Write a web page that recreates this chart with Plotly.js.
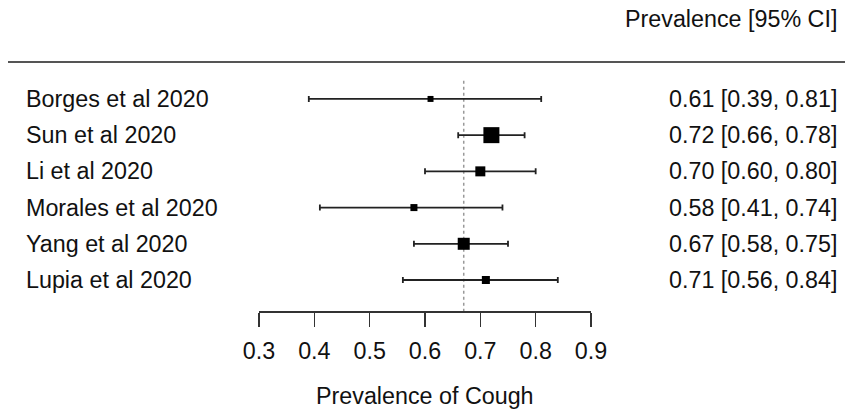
<!DOCTYPE html>
<html>
<head>
<meta charset="utf-8">
<script src="https://cdn.plot.ly/plotly-3.0.1.min.js"></script>
<style>html,body{margin:0;padding:0;background:#fff;}#chart{width:845px;height:409px;}</style>
</head>
<body>
<div id="chart"></div>
<script>
// ---- data ----
const studies = ["Borges et al 2020", "Sun et al 2020", "Li et al 2020", "Morales et al 2020", "Yang et al 2020", "Lupia et al 2020"];
const estimate = [0.61, 0.72, 0.70, 0.58, 0.67, 0.71];
const lower    = [0.39, 0.66, 0.60, 0.41, 0.58, 0.56];
const upper    = [0.81, 0.78, 0.80, 0.74, 0.75, 0.84];
const weights  = [5.5, 39.4, 15.4, 7.6, 22.2, 9.9];   // relative study weights (%)
const pooled = 0.67;
const tickValues = [0.3, 0.4, 0.5, 0.6, 0.7, 0.8, 0.9];
const tickLabels = ["0.3", "0.4", "0.5", "0.6", "0.7", "0.8", "0.9"];
const headerText = "Prevalence [95% CI]";
const axisTitle = "Prevalence of Cough";

// ---- derived ----
const n = studies.length;
const rowPos = studies.map((_, i) => n - i);
const maxW = Math.max(...weights);
const sizes = weights.map(w => 16 * Math.sqrt(w / maxW));
const fmt = v => v.toFixed(2);
const ciText = estimate.map((e, i) => `${fmt(e)} [${fmt(lower[i])}, ${fmt(upper[i])}]`);

const FONT = "Liberation Sans, Arial, Helvetica, sans-serif";
const FS = 23.3;
const W = 845;

const trace = {
  type: "scatter",
  mode: "markers",
  x: estimate,
  y: rowPos,
  cliponaxis: false,
  marker: {symbol: "square", color: "#000", opacity: 1, size: sizes, line: {width: 0}},
  error_x: {
    type: "data", symmetric: false,
    array: estimate.map((e, i) => upper[i] - e),
    arrayminus: estimate.map((e, i) => e - lower[i]),
    color: "#222", thickness: 1.8, width: 3
  },
  hoverinfo: "skip",
  showlegend: false
};

const annotations = [];
studies.forEach((s, i) => {
  annotations.push({xref: "paper", yref: "y", x: 24 / W, y: rowPos[i], text: s, showarrow: false,
    xanchor: "left", yanchor: "middle", font: {family: FONT, size: FS, color: "#111"}});
  annotations.push({xref: "paper", yref: "y", x: 839 / W, y: rowPos[i], text: ciText[i], showarrow: false,
    xanchor: "right", yanchor: "middle", font: {family: FONT, size: FS, color: "#111"}});
});
annotations.push({xref: "paper", yref: "paper", x: 839 / W, y: 1, yshift: 43, text: headerText, showarrow: false,
  xanchor: "right", yanchor: "middle", font: {family: FONT, size: FS, color: "#111"}});
annotations.push({xref: "paper", yref: "paper", x: 425 / W, y: 0, yshift: -85, text: axisTitle, showarrow: false,
  xanchor: "center", yanchor: "middle", font: {family: FONT, size: FS, color: "#111"}});

const shapes = [
  {type: "line", xref: "paper", yref: "paper", x0: 8 / W, x1: 1, y0: 1, y1: 1,
   line: {color: "#555", width: 2}},
  {type: "line", xref: "x", yref: "y", x0: pooled, x1: pooled, y0: n + 0.5, y1: 0.144,
   layer: "below", line: {color: "#999", width: 1.5, dash: "dot"}}
];

const layout = {
  width: 845, height: 409,
  margin: {l: 0, r: 0, t: 62, b: 98},
  paper_bgcolor: "#fff", plot_bgcolor: "#fff",
  xaxis: {
    domain: [259 / W, 591 / W], range: [0.3, 0.9],
    showgrid: false, zeroline: false, showline: true, linecolor: "#333", linewidth: 1.5,
    ticks: "outside", ticklen: 14, tickwidth: 1.5, tickcolor: "#333",
    ticklabelstandoff: 5,
    tickvals: tickValues, ticktext: tickLabels,
    tickfont: {family: FONT, size: FS, color: "#111"}
  },
  yaxis: {
    range: [0.144, n + 1.02], showgrid: false, zeroline: false, showline: false,
    showticklabels: false, ticks: ""
  },
  shapes: shapes,
  annotations: annotations,
  showlegend: false
};

Plotly.newPlot("chart", [trace], layout, {displayModeBar: false, staticPlot: true});
</script>
</body>
</html>
